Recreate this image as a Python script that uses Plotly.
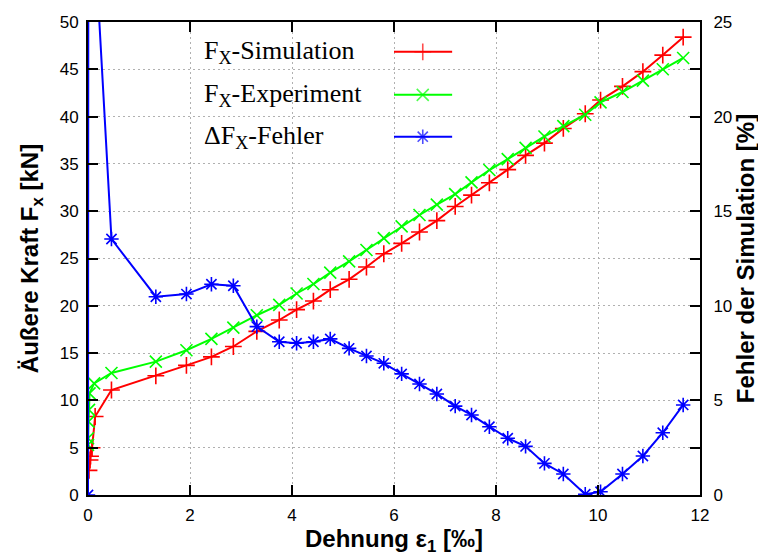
import plotly.graph_objects as go

# ---------------- data ----------------
sim_x = [0.02, 0.04, 0.05, 0.08, 0.14,
         0.46, 1.33, 1.93, 2.42, 2.85, 3.31, 3.75, 4.09, 4.42, 4.75, 5.12, 5.46, 5.80, 6.15,
         6.50, 6.84, 7.20, 7.52, 7.87, 8.23, 8.58, 8.95, 9.32, 9.75, 10.05, 10.48, 10.88,
         11.27, 11.67]
sim_y = [2.6, 3.7, 4.1, 5.0, 8.3,
         11.1, 12.6, 13.7, 14.6, 15.7, 17.3, 18.5, 19.6, 20.5, 21.7, 22.8, 24.1, 25.5, 26.6,
         27.8, 29.0, 30.5, 31.7, 33.0, 34.4, 35.9, 37.2, 38.75, 40.3, 41.75, 43.2, 44.75,
         46.5, 48.4]

exp_x = [0.0, 0.0, 0.01, 0.02, 0.03, 0.12,
         0.46, 1.33, 1.93, 2.42, 2.85, 3.31, 3.75, 4.09, 4.42, 4.75, 5.12, 5.46, 5.80, 6.15,
         6.50, 6.84, 7.20, 7.52, 7.87, 8.23, 8.58, 8.95, 9.32, 9.75, 10.05, 10.48, 10.88,
         11.27, 11.67]
exp_y = [5.3, 6.0, 7.75, 9.0, 10.75, 11.8,
         12.9, 14.1, 15.3, 16.5, 17.7, 19.0, 20.1, 21.3, 22.3, 23.5, 24.7, 25.9, 27.15, 28.4,
         29.6, 30.7, 31.8, 33.05, 34.35, 35.5, 36.7, 37.9, 39.0, 40.2, 41.5, 42.6, 43.8,
         45.0, 46.2]

err_x = [0.0, 0.01, 0.03, 0.08, 0.14,
         0.46, 1.33, 1.93, 2.42, 2.85, 3.31, 3.75, 4.09, 4.42, 4.75, 5.12, 5.46, 5.80, 6.15,
         6.50, 6.84, 7.20, 7.52, 7.87, 8.23, 8.58, 8.95, 9.32, 9.75, 10.05, 10.48, 10.88,
         11.27, 11.67]
err_y = [0.0, 45.0, 40.0, 35.0, 29.0,
         13.53, 10.48, 10.62, 11.14, 11.06, 8.9, 8.1, 8.02, 8.1, 8.25, 7.75, 7.35, 6.96, 6.40,
         5.87, 5.34, 4.7, 4.23, 3.61, 3.0, 2.57, 1.67, 1.11, 0.04, 0.17, 1.11, 2.06,
         3.29, 4.76]

series_names = ["F<sub>X</sub>-Simulation", "F<sub>X</sub>-Experiment", "ΔF<sub>X</sub>-Fehler"]
series_colors = ["#ff0000", "#00ff00", "#0000ff"]
series_symbols = ["cross-thin-open", "x-thin-open", "asterisk-open"]

x_ticks = [0, 2, 4, 6, 8, 10, 12]
y_ticks = [0, 5, 10, 15, 20, 25, 30, 35, 40, 45, 50]
y2_ticks = [0, 5, 10, 15, 20, 25]

# ---------------- style ----------------
SANS = "Liberation Sans, Arial, sans-serif"
SERIF = "Liberation Serif, Times New Roman, serif"
LEG_ROWS = [0.937, 0.846, 0.7575]      # legend rows (paper y)
LEG_TEXT_X = 0.187
LEG_LINE_X = [0.50, 0.547, 0.595]

fig = go.Figure()

data = [(sim_x, sim_y, "y"), (exp_x, exp_y, "y"), (err_x, err_y, "y2")]
for (xs, ys, ax), name, col, sym in zip(data, series_names, series_colors, series_symbols):
    fig.add_trace(go.Scatter(
        x=xs, y=ys, yaxis=ax, mode="lines+markers", name=name, showlegend=False,
        line=dict(color=col, width=2),
        marker=dict(symbol=sym, size=12, color=col, line=dict(color=col, width=1.6)),
    ))

# custom legend (text left, sample right, like the original)
for row, name, col, sym in zip(LEG_ROWS, series_names, series_colors, series_symbols):
    fig.add_trace(go.Scatter(
        x=LEG_LINE_X, y=[row] * 3, xaxis="x2", yaxis="y3", mode="lines+markers",
        showlegend=False, hoverinfo="skip",
        line=dict(color=col, width=2),
        marker=dict(symbol=sym, size=[0, 12, 0], color=col, line=dict(color=col, width=1.6)),
    ))
    fig.add_annotation(x=LEG_TEXT_X, y=row, xref="paper", yref="paper", text=name,
                       showarrow=False, xanchor="left", yanchor="middle",
                       font=dict(family=SERIF, size=26, color="black"))

# white legend box hiding the grid
fig.add_shape(type="rect", xref="paper", yref="paper", x0=0.168, x1=0.663, y0=0.71, y1=1.0,
              fillcolor="white", line=dict(width=0), layer="below")

grid = dict(showgrid=True, gridcolor="#b0b0b0", gridwidth=1, griddash="2px,3px")
tickfont = dict(family=SANS, size=17, color="black")
titlefont = dict(family=SANS, size=24, color="black", weight="bold")

# the page body adds an 8 px offset, so the figure is 8 px smaller than the window
fig.update_layout(
    width=758, height=550,
    margin=dict(l=80, r=66, t=14, b=63, autoexpand=False),
    paper_bgcolor="white", plot_bgcolor="white",
    showlegend=False,
    xaxis=dict(range=[0, 12], tickvals=x_ticks, ticks="inside", ticklen=10, tickwidth=1.5,
               tickcolor="black", showline=True, linecolor="black", linewidth=2, mirror="ticks",
               zeroline=False, tickfont=tickfont, automargin=False, ticklabelstandoff=4,
               title=dict(text="Dehnung ε<sub>1</sub> [‰]", font=titlefont, standoff=4),
               **grid),
    yaxis=dict(range=[0, 50], tickvals=y_ticks, ticks="inside", ticklen=10, tickwidth=1.5,
               tickcolor="black", showline=True, linecolor="black", linewidth=2,
               zeroline=False, tickfont=tickfont, ticklabelstandoff=4, automargin=False,
               title=dict(text="Äußere Kraft F<sub>x</sub> [kN]", font=titlefont, standoff=14),
               **grid),
    yaxis2=dict(range=[0, 25], overlaying="y", side="right", tickvals=y2_ticks,
                ticks="inside", ticklen=10, tickwidth=1.5,
                minor=dict(dtick=2.5, ticks="inside", ticklen=10, tickwidth=1.5,
                           tickcolor="black", showgrid=False),
                tickcolor="black", showline=True, linecolor="black", linewidth=2,
                showgrid=False, zeroline=False, tickfont=tickfont, ticklabelstandoff=8,
                automargin=False,
                title=dict(text="Fehler der Simulation [%]", font=titlefont, standoff=6)),
    xaxis2=dict(range=[0, 1], overlaying="x", visible=False),
    yaxis3=dict(range=[0, 1], overlaying="y", visible=False),
)

fig.write_html("out.html")
